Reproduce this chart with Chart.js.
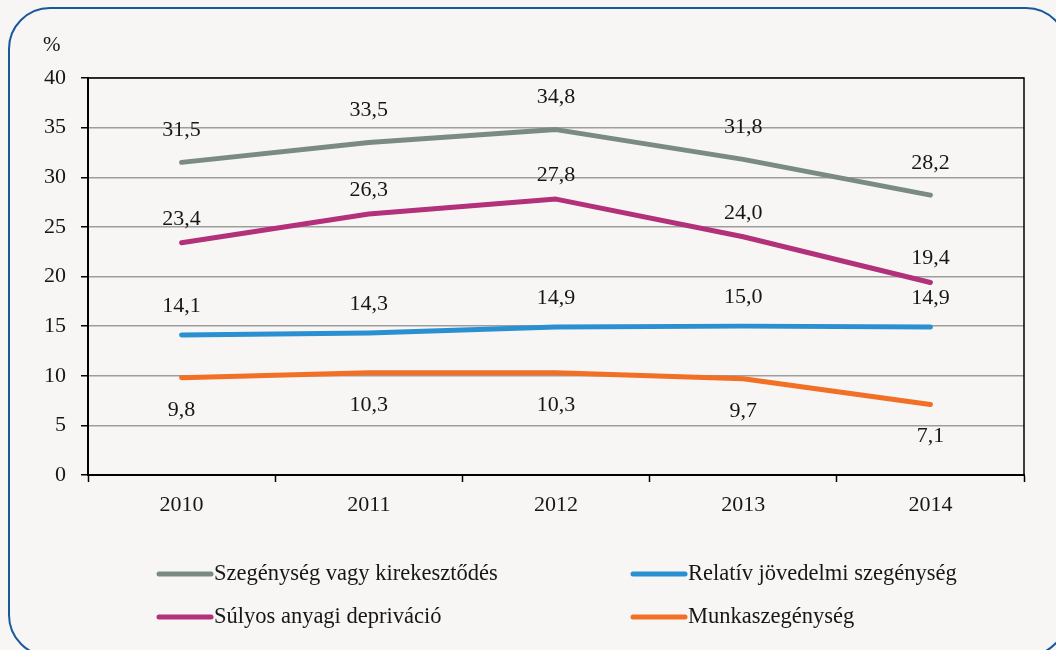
<!DOCTYPE html>
<html>
<head>
<meta charset="utf-8">
<script src="https://cdn.jsdelivr.net/npm/chart.js@4.4.1/dist/chart.umd.min.js"></script>
<style>
  html, body { margin: 0; padding: 0; background: #f7f6f4; overflow: hidden; }
  #wrap { position: relative; width: 1056px; height: 650px; }
  #frame {
    position: absolute; left: 8px; top: 7px; width: 1060px; height: 650px;
    border: 2px solid #17599c; border-radius: 42px; box-sizing: border-box;
  }
  canvas { position: absolute; left: 0; top: 0; }
</style>
</head>
<body>
<div id="wrap">
  <div id="frame"></div>
  <canvas id="povertyChart" width="1056" height="650"></canvas>
</div>
<script>
const years = ["2010", "2011", "2012", "2013", "2014"];
const exclusion = [31.5, 33.5, 34.8, 31.8, 28.2];   // Szegénység vagy kirekesztődés
const deprivation = [23.4, 26.3, 27.8, 24.0, 19.4]; // Súlyos anyagi depriváció
const relative = [14.1, 14.3, 14.9, 15.0, 14.9];    // Relatív jövedelmi szegénység
const workPoverty = [9.8, 10.3, 10.3, 9.7, 7.1];    // Munkaszegénység

const FONT = "'Liberation Serif', 'Times New Roman', serif";
const TEXT = "#161616";

function fmt(v) {
  return v.toFixed(1).replace(".", ",");
}

// value labels above / below each point
const valueLabels = {
  id: "valueLabels",
  afterDatasetsDraw(chart) {
    const ctx = chart.ctx;
    ctx.save();
    ctx.font = "22px " + FONT;
    ctx.fillStyle = TEXT;
    ctx.textAlign = "center";
    ctx.textBaseline = "middle";
    chart.data.datasets.forEach((ds, i) => {
      const meta = chart.getDatasetMeta(i);
      meta.data.forEach((pt, j) => {
        ctx.fillText(fmt(ds.data[j]), pt.x, pt.y + ds.labelOffset);
      });
    });
    ctx.restore();
  },
};

// frame round the plot area, % label and the legend
const decorations = {
  id: "decorations",
  beforeDatasetsDraw(chart) {
    const { ctx, chartArea } = chart;
    ctx.save();
    ctx.strokeStyle = "#000";
    ctx.lineWidth = 1.5;
    ctx.beginPath();
    ctx.moveTo(chartArea.left, chartArea.top);
    ctx.lineTo(chartArea.right, chartArea.top);
    ctx.lineTo(chartArea.right, chartArea.bottom);
    ctx.stroke();
    ctx.restore();
  },
  afterDraw(chart) {
    const ctx = chart.ctx;
    ctx.save();
    ctx.fillStyle = TEXT;
    ctx.font = "21px " + FONT;
    ctx.textBaseline = "middle";
    ctx.fillText("%", 43, 45);

    const cols = [157, 631];
    const rows = [574, 617];
    const layout = [[0, 0], [1, 0], [0, 1], [1, 1]]; // [col,row] by dataset index
    ctx.font = "22.5px " + FONT;
    chart.data.datasets.forEach((ds, i) => {
      const x = cols[layout[i][0]];
      const y = rows[layout[i][1]];
      ctx.strokeStyle = ds.borderColor;
      ctx.lineWidth = 5;
      ctx.lineCap = "round";
      ctx.beginPath();
      ctx.moveTo(x + 2, y);
      ctx.lineTo(x + 54, y);
      ctx.stroke();
      ctx.fillStyle = TEXT;
      ctx.textAlign = "left";
      ctx.fillText(ds.label, x + 57, y);
    });
    ctx.restore();
  },
};

function makeSet(label, data, color, labelOffset) {
  return {
    label: label,
    data: data,
    borderColor: color,
    backgroundColor: color,
    borderWidth: 5,
    borderCapStyle: "round",
    borderJoinStyle: "round",
    pointRadius: 0,
    tension: 0,
    labelOffset: labelOffset,
  };
}

const chart = new Chart(document.getElementById("povertyChart"), {
  type: "line",
  data: {
    labels: years,
    datasets: [
      makeSet("Szegénység vagy kirekesztődés", exclusion, "#7a8b83", -32),
      makeSet("Relatív jövedelmi szegénység", relative, "#2a90d2", -29),
      makeSet("Súlyos anyagi depriváció", deprivation, "#b3307a", -24),
      makeSet("Munkaszegénység", workPoverty, "#f26f26", 32),
    ],
  },
  options: {
    responsive: false,
    animation: false,
    layout: { padding: { left: 30, right: 32, top: 78, bottom: 130 } },
    plugins: {
      legend: { display: false },
      tooltip: { enabled: false },
    },
    scales: {
      x: {
        offset: true,
        grid: {
          offset: true,
          drawOnChartArea: false,
          tickLength: 7,
          tickColor: "#000",
          tickWidth: 1.5,
        },
        border: { color: "#000", width: 2 },
        ticks: {
          color: TEXT,
          font: { family: FONT, size: 22 },
          padding: 10,
        },
        afterFit(scale) {
          scale.height = 45;
        },
      },
      y: {
        min: 0,
        max: 40,
        ticks: {
          stepSize: 5,
          color: TEXT,
          font: { family: FONT, size: 22 },
          padding: 15,
        },
        grid: {
          color: "#9d9d9d",
          lineWidth: 1.5,
          tickLength: 7,
          tickColor: "#000",
        },
        border: { color: "#000", width: 2 },
        afterFit(scale) {
          scale.width = 58;
        },
      },
    },
  },
  plugins: [decorations, valueLabels],
});
</script>
</body>
</html>
